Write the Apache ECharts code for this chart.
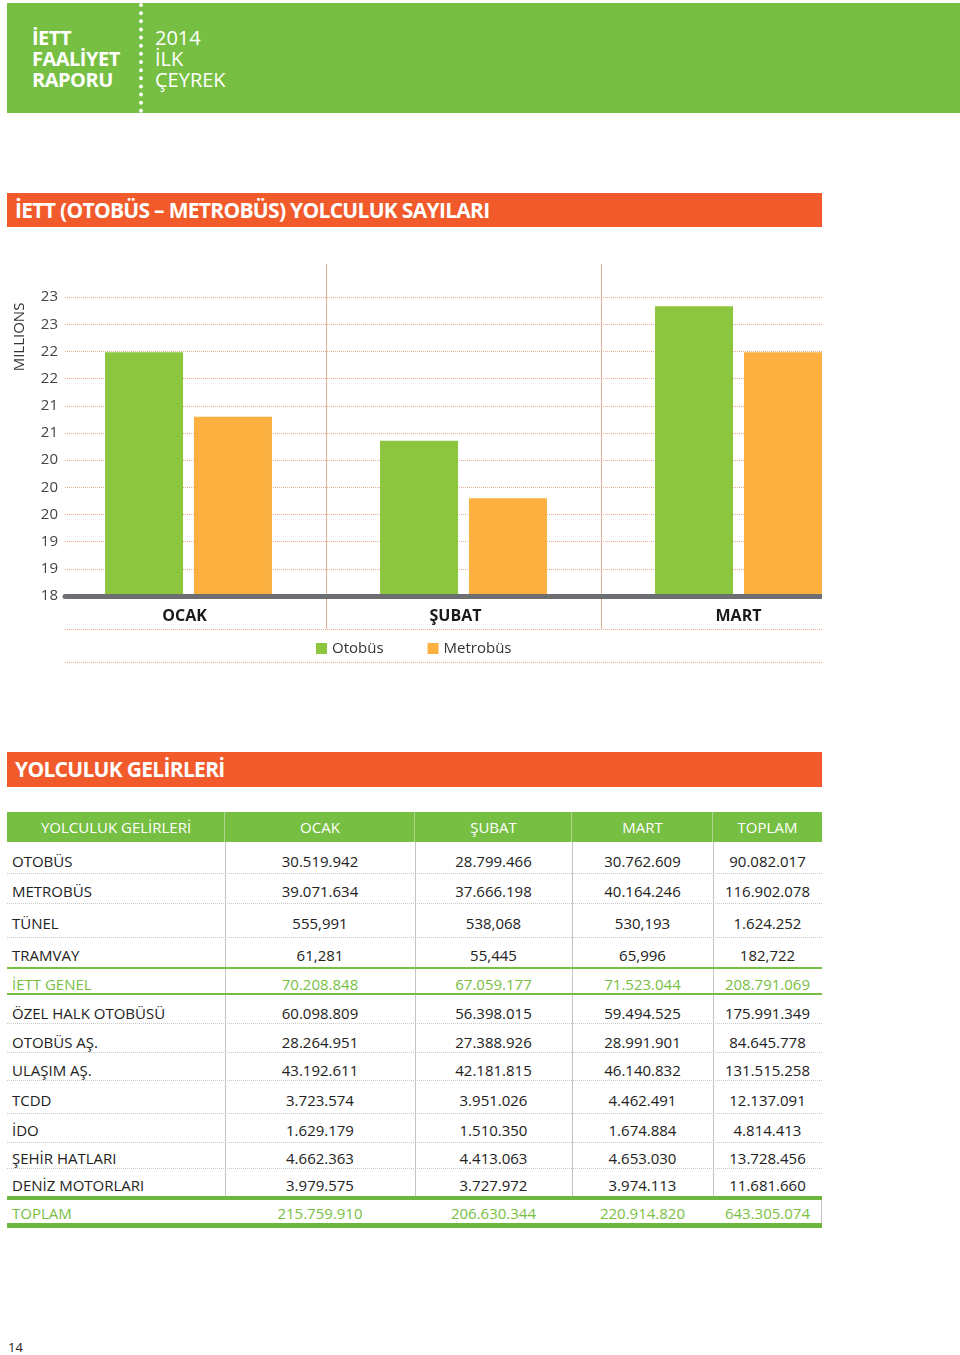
<!DOCTYPE html>
<html>
<head>
<meta charset="utf-8">
<script src="https://cdn.jsdelivr.net/npm/echarts@6/dist/echarts.min.js"></script>
<style>
  html, body { margin: 0; padding: 0; background: #fff; }
  body { width: 960px; height: 1355px; position: relative; overflow: hidden; font-family: "Open Sans", "Noto Sans", sans-serif; }
  .abs { position: absolute; }
  #hdr { left: 7px; top: 3px; width: 953px; height: 110px; background: #77bf43; }
  #hdrline { left: 139px; top: 3px; height: 110px; border-left: 4px dotted #fff; }
  .hdrtxt { color: #fff; font-size: 20px; line-height: 21px; top: 27px; letter-spacing: -0.5px; }
  .bar { left: 7px; width: 815px; background: #f15a2b; color: #fff; font-weight: bold; font-size: 21px; padding-left: 8px; box-sizing: border-box; letter-spacing: -0.7px; }
  #chart { left: 0; top: 250px; width: 822px; height: 430px; }
  .th { color: #fff; font-size: 15px; text-align: center; line-height: 30px; top: 812px; height: 30px; }
  .cell { font-size: 15px; color: #222; line-height: 20px; height: 20px; white-space: nowrap; }
  .num { text-align: center; }
</style>
</head>
<body>
<div id="hdr" class="abs"></div>
<div id="hdrline" class="abs"></div>
<div class="abs hdrtxt" style="left:32px;font-weight:bold;">İETT<br>FAALİYET<br>RAPORU</div>
<div class="abs hdrtxt" style="left:155px;letter-spacing:0;">2014<br>İLK<br>ÇEYREK</div>
<div class="abs bar" style="top:193px;height:34px;line-height:34px;">İETT (OTOBÜS – METROBÜS) YOLCULUK SAYILARI</div>
<div id="chart" class="abs"></div>
<div class="abs bar" style="top:752px;height:35px;line-height:35px;">YOLCULUK GELİRLERİ</div>
<div id="table"></div>
<div class="abs" style="left:8px;top:1338px;font-size:13px;color:#222;">14</div>
<script>
// ---- Chart data (millions of passengers) ----
const months = ['OCAK', 'ŞUBAT', 'MART'];
const otobus = [22.24, 20.77, 23.0];
const metrobus = [21.17, 19.82, 22.24];
const yTicks = [18.2, 18.65, 19.1, 19.55, 20.0, 20.45, 20.9, 21.35, 21.8, 22.25, 22.7, 23.15];

// ---- Table data ----
const tableHeaders = ['YOLCULUK GELİRLERİ', 'OCAK', 'ŞUBAT', 'MART', 'TOPLAM'];
const rowLabels = ['OTOBÜS', 'METROBÜS', 'TÜNEL', 'TRAMVAY', 'İETT GENEL', 'ÖZEL HALK OTOBÜSÜ', 'OTOBÜS AŞ.', 'ULAŞIM AŞ.', 'TCDD', 'İDO', 'ŞEHİR HATLARI', 'DENİZ MOTORLARI', 'TOPLAM'];
const ocakGelir = ['30.519.942', '39.071.634', '555,991', '61,281', '70.208.848', '60.098.809', '28.264.951', '43.192.611', '3.723.574', '1.629.179', '4.662.363', '3.979.575', '215.759.910'];
const subatGelir = ['28.799.466', '37.666.198', '538,068', '55,445', '67.059.177', '56.398.015', '27.388.926', '42.181.815', '3.951.026', '1.510.350', '4.413.063', '3.727.972', '206.630.344'];
const martGelir = ['30.762.609', '40.164.246', '530,193', '65,996', '71.523.044', '59.494.525', '28.991.901', '46.140.832', '4.462.491', '1.674.884', '4.653.030', '3.974.113', '220.914.820'];
const toplamGelir = ['90.082.017', '116.902.078', '1.624.252', '182,722', '208.791.069', '175.991.349', '84.645.778', '131.515.258', '12.137.091', '4.814.413', '13.728.456', '11.681.660', '643.305.074'];

// ---- Build table (layout only) ----
(function () {
  const t = document.getElementById('table');
  const colX = [7, 225, 415, 572, 713, 822];
  const rowTop = [842, 873, 903, 937, 968, 994, 1023, 1052, 1080, 1113, 1142, 1168, 1200];
  const rowCenter = [861, 891, 923, 955, 984, 1013, 1042, 1070, 1100, 1130, 1158, 1185, 1213];
  const cols = [rowLabels, ocakGelir, subatGelir, martGelir, toplamGelir];
  let html = '';
  html += '<div class="abs" style="left:7px;top:812px;width:815px;height:30px;background:#77bf43;"></div>';
  for (let c = 0; c < 5; c++) {
    html += '<div class="abs th" style="left:' + colX[c] + 'px;width:' + (colX[c + 1] - colX[c]) + 'px;">' + tableHeaders[c] + '</div>';
  }
  for (let c = 1; c < 5; c++) {
    html += '<div class="abs" style="left:' + (colX[c] - 1) + 'px;top:812px;width:1px;height:30px;background:#a9d88a;"></div>';
    html += '<div class="abs" style="left:' + colX[c] + 'px;top:842px;width:1px;height:354px;background:#c4c4c4;"></div>';
  }
  for (let r = 1; r < 12; r++) {
    if (r === 4 || r === 5) continue;
    html += '<div class="abs" style="left:7px;top:' + rowTop[r] + 'px;width:815px;height:0;border-top:1px dotted #c9c9c9;"></div>';
  }
  html += '<div class="abs" style="left:7px;top:967px;width:815px;height:2px;background:#77bf43;"></div>';
  html += '<div class="abs" style="left:7px;top:993px;width:815px;height:2px;background:#77bf43;"></div>';
  html += '<div class="abs" style="left:7px;top:1196px;width:815px;height:4px;background:#6cb83f;"></div>';
  html += '<div class="abs" style="left:7px;top:1223px;width:815px;height:5px;background:#6cb83f;"></div>';
  html += '<div class="abs" style="left:821px;top:1200px;width:1px;height:23px;background:#c4c4c4;"></div>';
  for (let r = 0; r < rowLabels.length; r++) {
    const green = (r === 4 || r === 12);
    const color = green ? '#78c043' : '#222';
    for (let c = 0; c < 5; c++) {
      const top = rowCenter[r] - 10;
      if (c === 0) {
        html += '<div class="abs cell" style="left:12px;top:' + top + 'px;color:' + color + ';">' + cols[c][r] + '</div>';
      } else {
        html += '<div class="abs cell num" style="left:' + colX[c] + 'px;width:' + (colX[c + 1] - colX[c]) + 'px;top:' + top + 'px;color:' + color + ';">' + cols[c][r] + '</div>';
      }
    }
  }
  t.innerHTML = html;
})();

// ---- Chart ----
const chart = echarts.init(document.getElementById('chart'), null, { renderer: 'canvas' });
const gridColor = '#e8ad95';
const fontFam = '"Open Sans", "Noto Sans", sans-serif';
const catLabelStyle = { fontSize: 16, fontWeight: 'bold', color: '#1a1a1a', fontFamily: fontFam };
chart.setOption({
  animation: false,
  textStyle: { fontFamily: fontFam },
  grid: [
    { left: 65, top: 14, width: 757, height: 332, outerBoundsMode: 'none', containLabel: false },
    { left: 51, top: 14, width: 825, height: 332, outerBoundsMode: 'none', containLabel: false }
  ],
  legend: {
    left: 311, top: 386,
    itemWidth: 11, itemHeight: 11, itemGap: 44,
    icon: 'rect',
    textStyle: { fontSize: 15, color: '#333', fontFamily: fontFam },
    data: ['Otobüs', 'Metrobüs']
  },
  xAxis: [
    {
      gridIndex: 0, type: 'category', data: months, z: 5,
      axisLine: { show: true, lineStyle: { color: '#6d6e71', width: 5 } },
      axisTick: { show: false }, axisLabel: { show: false }, splitLine: { show: false }
    },
    {
      gridIndex: 1, type: 'category', data: months,
      axisLine: { show: false },
      axisTick: { show: true, length: 33, interval: function (i) { return i > 0; }, lineStyle: { color: gridColor, width: 1 } },
      axisLabel: Object.assign({ show: true, margin: 12,
        formatter: function (v, i) { return '{l' + i + '|' + v + '}'; },
        rich: {
          l0: Object.assign({ padding: [0, 8, 0, 0] }, catLabelStyle),
          l1: Object.assign({ padding: [0, 16, 0, 0] }, catLabelStyle),
          l2: Object.assign({ padding: [0, 0, 0, 0] }, catLabelStyle)
        } }, catLabelStyle),
      splitLine: { show: true, interval: function (i) { return i > 0; }, lineStyle: { color: gridColor, width: 1 } }
    }
  ],
  yAxis: [
    {
      gridIndex: 0, type: 'value', min: 18.2, max: 23.7,
      axisLine: { show: false },
      axisTick: { show: false, customValues: yTicks },
      axisLabel: { customValues: yTicks, margin: 7, fontSize: 15, color: '#444', fontFamily: fontFam,
        formatter: function (v) { return String(Math.round(v)); } },
      splitLine: { show: true, lineStyle: { color: gridColor, width: 1, type: [1, 1] } }
    },
    { gridIndex: 1, type: 'value', min: 18.2, max: 23.7, show: false }
  ],
  series: [
    { name: 'Otobüs', type: 'bar', xAxisIndex: 1, yAxisIndex: 1, data: otobus, barWidth: 78, barGap: '14%', itemStyle: { color: '#8cc63f' } },
    { name: 'Metrobüs', type: 'bar', xAxisIndex: 1, yAxisIndex: 1, data: metrobus, barWidth: 78, barGap: '14%', itemStyle: { color: '#fbb040' } }
  ],
  graphic: [
    { type: 'text', x: 20, y: 87, rotation: Math.PI / 2,
      style: { text: 'MILLIONS', fill: '#333', font: '15px ' + fontFam, align: 'center', verticalAlign: 'middle' } },
    { type: 'line', shape: { x1: 65, y1: 379.5, x2: 822, y2: 379.5 }, style: { stroke: gridColor, lineWidth: 1, lineDash: [1, 1] } },
    { type: 'line', shape: { x1: 65, y1: 412.5, x2: 822, y2: 412.5 }, style: { stroke: gridColor, lineWidth: 1, lineDash: [1, 1] } }
  ]
});
</script>
</body>
</html>
